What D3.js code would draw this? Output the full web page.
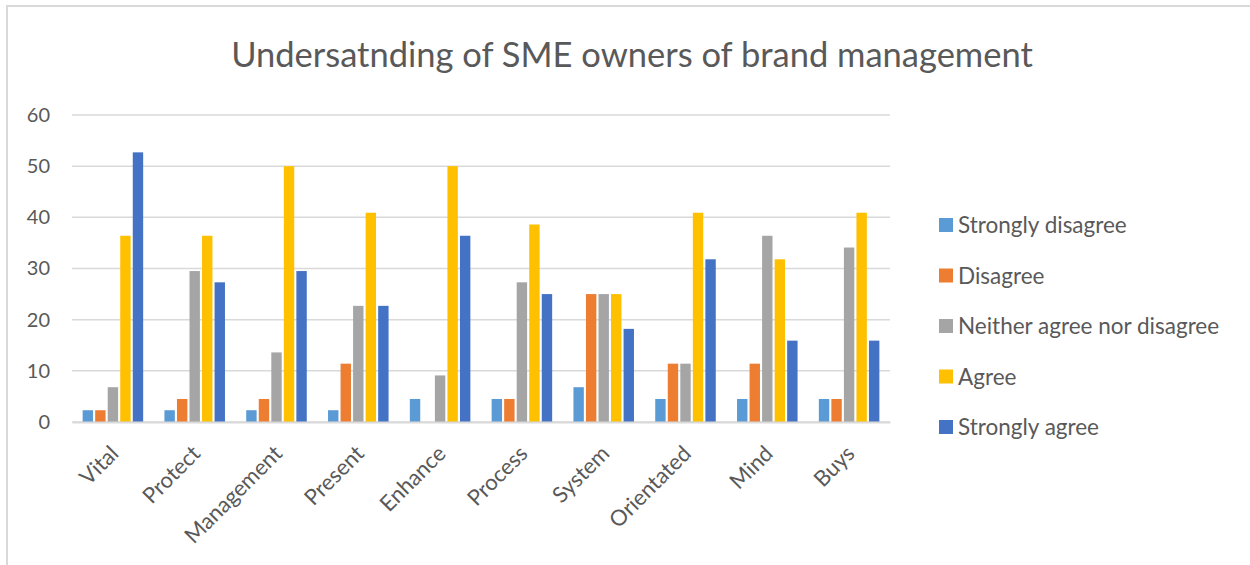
<!DOCTYPE html>
<html>
<head>
<meta charset="utf-8">
<script src="https://cdn.jsdelivr.net/npm/d3@7"></script>
<style>
  body { margin: 0; background: #fff; }
  svg text { font-family: Lato, "Open Sans", sans-serif; fill: #595959; }
</style>
</head>
<body>
<svg id="chart" width="1250" height="565"></svg>
<script>
// data (percent of respondents)
var categories = ["Vital", "Protect", "Management", "Present", "Enhance", "Process", "System", "Orientated", "Mind", "Buys"];
var seriesNames = ["Strongly disagree", "Disagree", "Neither agree nor disagree", "Agree", "Strongly agree"];
var seriesColors = ["#5b9bd5", "#ed7d31", "#a5a5a5", "#ffc000", "#4472c4"];

var stronglyDisagree = [2.3, 2.3, 2.3, 2.3, 4.5, 4.5, 6.8, 4.5, 4.5, 4.5];
var disagree         = [2.3, 4.5, 4.5, 11.4, 0, 4.5, 25, 11.4, 11.4, 4.5];
var neither          = [6.8, 29.5, 13.6, 22.7, 9.1, 27.3, 25, 11.4, 36.4, 34.1];
var agree            = [36.4, 36.4, 50, 40.9, 50, 38.6, 25, 40.9, 31.8, 40.9];
var stronglyAgree    = [52.7, 27.3, 29.5, 22.7, 36.4, 25, 18.2, 31.8, 15.9, 15.9];

var yTicks = [0, 10, 20, 30, 40, 50, 60];

var allSeries = [stronglyDisagree, disagree, neither, agree, stronglyAgree];

var svg = d3.select("#chart");

// outer chart border (only top and left edges visible in the picture)
svg.append("path")
    .attr("d", "M7,565 V6 H1250")
    .attr("fill", "none")
    .attr("stroke", "#d9d9d9")
    .attr("stroke-width", 2);

var margin = { top: 115, left: 72, right: 360, bottom: 143 };
var width = 1250 - margin.left - margin.right;
var height = 565 - margin.top - margin.bottom;

var g = svg.append("g")
    .attr("transform", "translate(" + margin.left + "," + margin.top + ")");

var x0 = d3.scaleBand().domain(categories).range([0, width]);
var x1 = d3.scaleBand().domain(seriesNames)
    .range([x0.bandwidth() * 0.13, x0.bandwidth() * 0.87])
    .paddingInner(0.17);
var y = d3.scaleLinear().domain([0, 60]).range([height, 0]);

// gridlines
g.append("g")
    .selectAll("line")
    .data(yTicks)
    .join("line")
    .attr("x1", 0)
    .attr("x2", width)
    .attr("y1", d => y(d))
    .attr("y2", d => y(d))
    .attr("stroke", "#d9d9d9")
    .attr("stroke-width", 1.5);

// y axis labels
var yAxis = g.append("g")
    .call(d3.axisLeft(y).tickValues(yTicks).tickSize(0).tickPadding(22));
yAxis.select(".domain").remove();
yAxis.selectAll("text")
    .style("font-size", "20px")
    .style("font-family", "Lato, sans-serif")
    .attr("fill", "#595959");

// bars
var groups = g.append("g")
    .selectAll("g")
    .data(categories)
    .join("g")
    .attr("transform", d => "translate(" + x0(d) + ",0)");

groups.selectAll("rect")
    .data((d, i) => allSeries.map((s, k) => ({ key: seriesNames[k], value: s[i], color: seriesColors[k] })))
    .join("rect")
    .attr("x", d => x1(d.key))
    .attr("width", x1.bandwidth())
    .attr("y", d => y(d.value))
    .attr("height", d => height - y(d.value))
    .attr("fill", d => d.color);

// x axis
var xAxis = g.append("g")
    .attr("transform", "translate(0," + height + ")")
    .call(d3.axisBottom(x0).tickSize(0).tickPadding(0));
xAxis.select(".domain")
    .attr("stroke", "#d9d9d9")
    .attr("stroke-width", 2);
xAxis.selectAll("text")
    .style("font-size", "22px")
    .style("font-family", "Lato, sans-serif")
    .attr("fill", "#595959")
    .attr("text-anchor", "end")
    .attr("dy", null)
    .attr("transform", "translate(7,33) rotate(-45)");

// title
svg.append("text")
    .attr("x", 632)
    .attr("y", 67)
    .attr("text-anchor", "middle")
    .style("font-size", "34.5px")
    .text("Undersatnding of SME owners of brand management");

// legend
var legend = svg.append("g")
    .attr("transform", "translate(939,218)");

var item = legend.selectAll("g")
    .data(seriesNames)
    .join("g")
    .attr("transform", (d, i) => "translate(0," + i * 50.5 + ")");

item.append("rect")
    .attr("width", 14)
    .attr("height", 14)
    .attr("fill", (d, i) => seriesColors[i]);

item.append("text")
    .attr("x", 19)
    .attr("y", 15)
    .style("font-size", "22.5px")
    .text(d => d);
</script>
</body>
</html>
